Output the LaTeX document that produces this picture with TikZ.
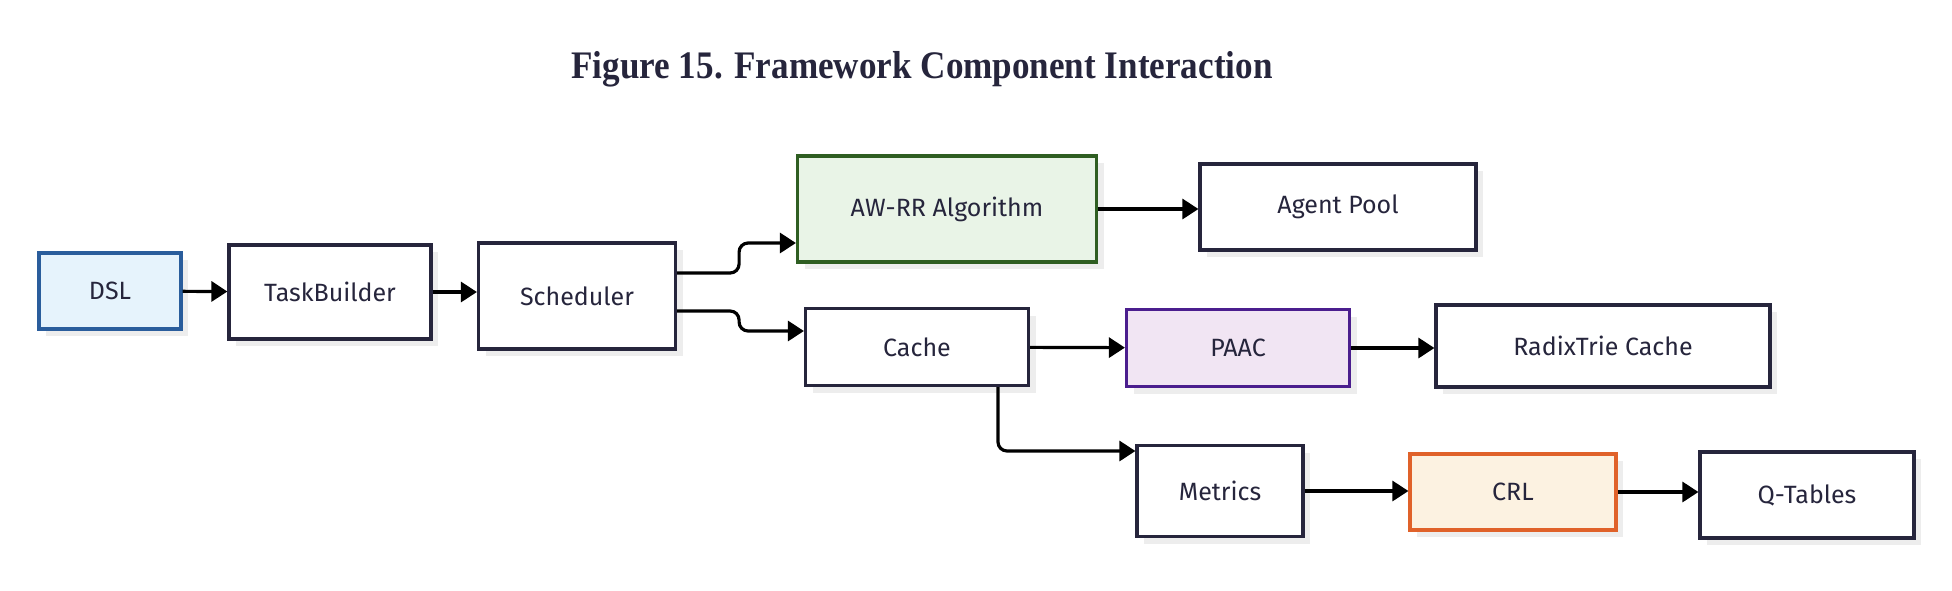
\documentclass[tikz,border=0pt]{standalone}
\usepackage{fontspec}
\setmainfont{Fira Sans}
\newfontfamily\titlefont[FakeStretch=0.9]{Liberation Serif}
\usetikzlibrary{arrows.meta, shadows}
\definecolor{ink}{HTML}{26253C}
\definecolor{dslline}{HTML}{2A5D9C}
\definecolor{dslfill}{HTML}{E6F3FC}
\definecolor{awline}{HTML}{2F5E22}
\definecolor{awfill}{HTML}{E9F4E7}
\definecolor{paline}{HTML}{4B1E8E}
\definecolor{pafill}{HTML}{F1E5F3}
\definecolor{crline}{HTML}{E0622A}
\definecolor{crfill}{HTML}{FCF2E1}

\begin{document}
\begin{tikzpicture}[x=1pt, y=-1pt,
  box/.style={draw=ink, line width=3.2pt, fill=white, text=ink, inner sep=0pt,
    font=\fontsize{25}{30}\selectfont,
    drop shadow={shadow xshift=7pt, shadow yshift=-7pt, fill=black, opacity=0.07}},
  arr/.style={line width=3.2pt, -{Triangle[length=16pt, width=20pt]}}]
  \useasboundingbox (0,0) rectangle (1952,590);
  \node[font=\titlefont\bfseries\fontsize{39}{44}\selectfont, text=ink, anchor=base] (title) at (922,78) {Figure 15. Framework Component Interaction};

  % first row
  \node[box, draw=dslline, fill=dslfill, minimum width=142pt, minimum height=76pt] (dsl) at (110,291) {DSL};
  \node[box, minimum width=202pt, minimum height=94pt] (tb) at (330,292) {TaskBuilder};
  \node[box, minimum width=197pt, minimum height=106pt] (sched) at (577,296) {Scheduler};
  \node[box, draw=awline, fill=awfill, minimum width=299pt, minimum height=106pt] (awrr) at (947,209) {AW-RR Algorithm};
  \node[box, minimum width=276pt, minimum height=86pt] (pool) at (1338,207) {Agent Pool};
  % cache branch
  \node[box, minimum width=223pt, minimum height=77pt] (cache) at (917,347) {Cache};
  \node[box, draw=paline, fill=pafill, minimum width=223pt, minimum height=77pt] (paac) at (1238,348) {PAAC};
  \node[box, minimum width=334pt, minimum height=82pt] (radix) at (1603,346) {RadixTrie Cache};
  % metrics branch
  \node[box, minimum width=166pt, minimum height=91pt] (metrics) at (1220,491) {Metrics};
  \node[box, draw=crline, fill=crfill, minimum width=206pt, minimum height=76pt] (crl) at (1513,492) {CRL};
  \node[box, minimum width=214pt, minimum height=86pt] (qt) at (1807,495) {Q-Tables};

  \coordinate (s1) at ([yshift=23pt]sched.east);
  \coordinate (s2) at ([yshift=-15pt]sched.east);
  \coordinate (c1) at ([xshift=81pt]cache.south);

  \draw[arr] (dsl) -- (tb);
  \draw[arr] (tb.east) -- (tb.east -| sched.west);
  \draw[arr, rounded corners=9pt] (s1) -- ++(62,0) |- ([yshift=-34pt]awrr.west);
  \draw[arr, rounded corners=9pt] (s2) -- ++(62,0) |- ([yshift=16pt]cache.west);
  \draw[arr] (awrr.east) -- (awrr.east -| pool.west);
  \draw[arr] (cache) -- (paac);
  \draw[arr] (paac.east) -- (paac.east -| radix.west);
  \draw[arr, rounded corners=9pt] (c1) |- ([yshift=40pt]metrics.west);
  \draw[arr] (metrics.east) -- (metrics.east -| crl.west);
  \draw[arr] (crl.east) -- (crl.east -| qt.west);
\end{tikzpicture}
\end{document}
